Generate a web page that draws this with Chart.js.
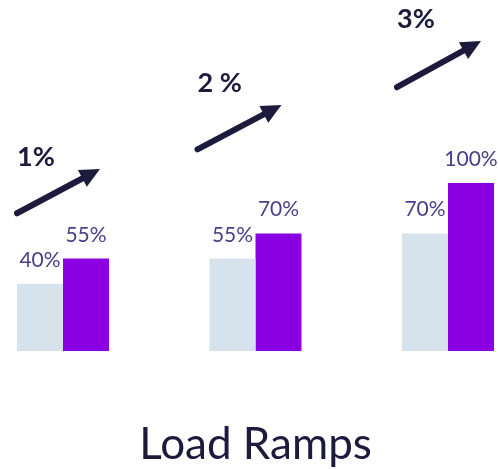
<!DOCTYPE html>
<html>
<head>
<meta charset="utf-8">
<script src="https://cdn.jsdelivr.net/npm/chart.js@4/dist/chart.umd.min.js"></script>
<style>
  html, body { margin: 0; padding: 0; background: #fff; }
  #wrap { width: 498px; height: 469px; }
</style>
</head>
<body>
<div id="wrap"><canvas id="rampChart"></canvas></div>
<script>
const stages = ['1', '2', '3'];
const currentLoad = [40, 55, 70];
const rampedLoad = [55, 70, 100];
const rampRates = ['1%', '2 %', '3%'];
// ramp arrows and their labels, in y-axis units
const arrowFrom = [82, 120, 157];
const arrowTo = [108.3, 146.4, 184.5];
const rateLabelAt = [110, 154, 192];

// horizontal offsets (px) of arrow tail and tip from each group centre
const arrowTail = [-46, -58, -51];
const arrowTip = [37, 26, 33];

const ink = '#1d1a3b';
const labelColor = '#4a3d8a';

const rampPlugin = {
    id: 'ramps',
    afterDatasetsDraw(chart) {
        const ctx = chart.ctx;
        const x = chart.scales.x;
        const y = chart.scales.y;

        // value labels over each bar
        ctx.save();
        ctx.font = '21px Lato';
        ctx.fillStyle = labelColor;
        ctx.textAlign = 'center';
        ctx.textBaseline = 'alphabetic';
        chart.data.datasets.forEach((ds, di) => {
            chart.getDatasetMeta(di).data.forEach((bar, i) => {
                ctx.fillText(ds.data[i] + '%', bar.x, bar.y - 17);
            });
        });
        ctx.restore();

        // ramp arrows
        stages.forEach((s, i) => {
            const cx = x.getPixelForValue(i);
            const x0 = cx + arrowTail[i], y0 = y.getPixelForValue(arrowFrom[i]);
            const x1 = cx + arrowTip[i], y1 = y.getPixelForValue(arrowTo[i]);
            const ang = Math.atan2(y1 - y0, x1 - x0);
            const head = 20, half = 9.5;
            const bx = x1 - head * Math.cos(ang), by = y1 - head * Math.sin(ang);

            ctx.save();
            ctx.strokeStyle = ink;
            ctx.fillStyle = ink;
            ctx.lineWidth = 6;
            ctx.lineCap = 'round';
            ctx.beginPath();
            ctx.moveTo(x0, y0);
            ctx.lineTo(bx + 2 * Math.cos(ang), by + 2 * Math.sin(ang));
            ctx.stroke();
            ctx.beginPath();
            ctx.moveTo(x1, y1);
            ctx.lineTo(bx + half * Math.sin(ang), by - half * Math.cos(ang));
            ctx.lineTo(bx - half * Math.sin(ang), by + half * Math.cos(ang));
            ctx.closePath();
            ctx.fill();

            ctx.font = 'bold 27px Lato';
            ctx.textAlign = 'left';
            ctx.textBaseline = 'alphabetic';
            ctx.fillText(rampRates[i], x0, y.getPixelForValue(rateLabelAt[i]));
            ctx.restore();
        });
    }
};

new Chart(document.getElementById('rampChart'), {
    type: 'bar',
    data: {
        labels: stages,
        datasets: [
            {
                label: 'Current',
                data: currentLoad,
                backgroundColor: '#d6e2ec',
                barPercentage: 1,
                categoryPercentage: 0.478,
                clip: false
            },
            {
                label: 'Ramped',
                data: rampedLoad,
                backgroundColor: '#8a00e2',
                barPercentage: 1,
                categoryPercentage: 0.478,
                clip: false
            }
        ]
    },
    options: {
        responsive: true,
        maintainAspectRatio: false,
        animation: false,
        layout: { padding: { left: 63, right: 50, top: 183, bottom: 0 } },
        scales: {
            x: { display: false, offset: false, grid: { offset: false } },
            y: { display: false, min: 0, max: 100 }
        },
        plugins: {
            legend: { display: false },
            tooltip: { enabled: false },
            title: {
                display: true,
                position: 'bottom',
                text: 'Load Ramps',
                color: ink,
                font: { family: 'Lato', size: 44, weight: 'normal', lineHeight: 1.1 },
                padding: { top: 69.6, bottom: 0 }
            }
        }
    },
    plugins: [rampPlugin]
});
</script>
</body>
</html>
